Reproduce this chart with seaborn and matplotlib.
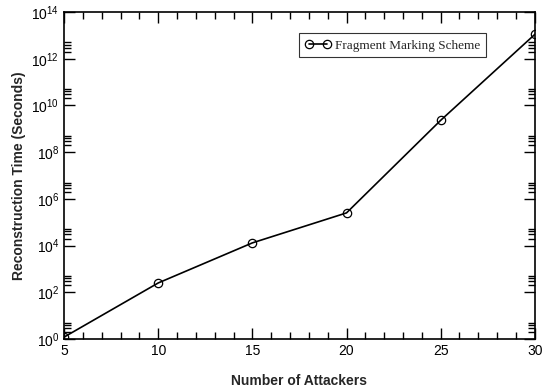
import numpy as np
import pandas as pd
import matplotlib
matplotlib.use('Agg')
import matplotlib.pyplot as plt
import matplotlib.ticker as mticker
import seaborn as sns

# values
attackers = [5, 10, 15, 20, 25, 30]
recon_time = [1.2, 2.5e2, 1.3e4, 2.5e5, 2.3e9, 1.1e13]
series_name = 'Fragment Marking Scheme'

df = pd.DataFrame({'Attackers': attackers, 'Time': recon_time, 'Scheme': series_name})

sns.set_style('ticks')
plt.rcParams['font.family'] = ['Liberation Sans', 'DejaVu Sans']
plt.rcParams['mathtext.fontset'] = 'custom'
plt.rcParams['mathtext.rm'] = 'Liberation Sans'

fig = plt.figure(figsize=(5.53, 3.9), dpi=100)
ax = fig.add_axes([0.116, 0.131, 0.851, 0.838])

sns.lineplot(data=df, x='Attackers', y='Time', hue='Scheme', palette=['black'],
             marker='o', markersize=6, markerfacecolor='none', markeredgecolor='black',
             markeredgewidth=0.9, linewidth=1.2, ax=ax)

ax.set_yscale('log')
ax.set_xlim(5, 30)
ax.set_ylim(1, 1e14)

ax.xaxis.set_major_locator(mticker.MultipleLocator(5))
ax.xaxis.set_minor_locator(mticker.MultipleLocator(1))
ax.yaxis.set_major_locator(mticker.FixedLocator([10.0 ** k for k in range(0, 15, 2)]))
minor_y = [s * 10.0 ** k for k in range(0, 14, 2) for s in (2, 3, 4, 5)]
ax.yaxis.set_minor_locator(mticker.FixedLocator(minor_y))
ax.yaxis.set_major_formatter(mticker.LogFormatterMathtext())
ax.yaxis.set_minor_formatter(mticker.NullFormatter())

ax.tick_params(which='both', direction='in', top=True, right=True, labelsize=10, colors='black')
ax.tick_params(which='major', length=8, width=1)
ax.tick_params(which='minor', length=5, width=1)
for s in ax.spines.values():
    s.set_linewidth(1.2)
    s.set_color('black')

ax.set_xlabel('Number of Attackers', fontsize=10, fontweight='bold', labelpad=12)
ax.set_ylabel('Reconstruction Time (Seconds)', fontsize=10, fontweight='bold', labelpad=4)

leg = ax.legend(loc='upper left', bbox_to_anchor=(0.499, 0.935), frameon=True, fancybox=False,
                prop={'family': 'Liberation Serif', 'size': 9.5}, handlelength=2.0, numpoints=2,
                borderpad=0.45, handletextpad=0.3, borderaxespad=0)
leg.get_frame().set_edgecolor('black')
leg.get_frame().set_linewidth(0.8)

fig.savefig('out.png', dpi=100)
